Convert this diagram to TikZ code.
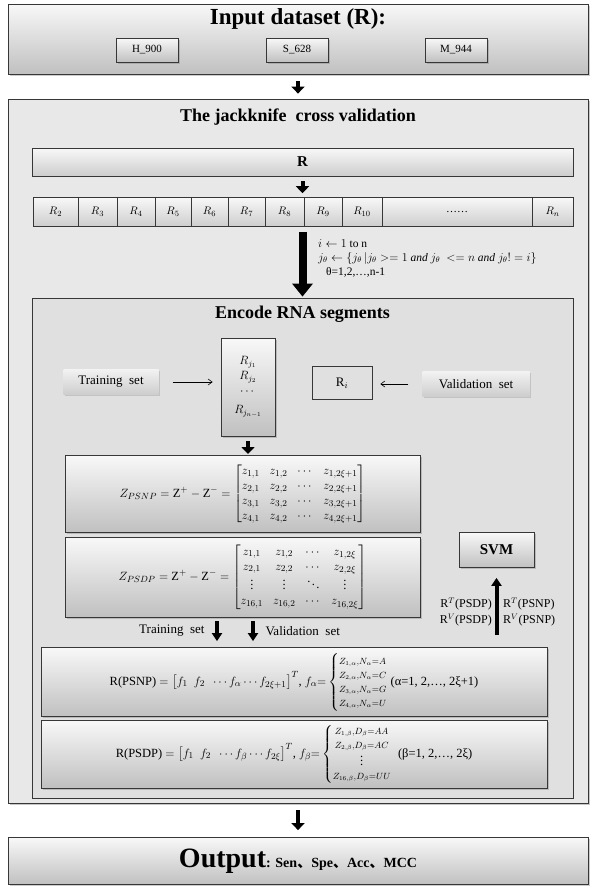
\documentclass[tikz,border=0pt]{standalone}
\usepackage{amsmath}
\usepackage{fontspec}
\setmainfont{Liberation Serif}
\newfontfamily\cjk{Noto Sans CJK SC}
\usetikzlibrary{shadows,arrows.meta,positioning}
\definecolor{frame-line}{RGB}{55,55,55}
\definecolor{panel-top}{RGB}{248,248,248}
\definecolor{panel-bottom}{RGB}{192,192,192}
\definecolor{back-fill}{RGB}{232,232,232}
\definecolor{inner-fill}{RGB}{224,224,224}
\definecolor{tag-top}{RGB}{242,242,242}
\definecolor{tag-bottom}{RGB}{205,205,205}

\begin{document}
\begin{tikzpicture}[
    x=1pt, y=-1pt,
    panel/.style={
        draw=frame-line,
        line width=0.8pt,
        top color=panel-top,
        bottom color=panel-bottom,
        drop shadow={shadow xshift=1.5pt, shadow yshift=-1.5pt, opacity=0.4},
        inner sep=0pt
    },
    back frame/.style={
        draw=frame-line,
        line width=0.8pt,
        fill=back-fill,
        drop shadow={shadow xshift=2pt, shadow yshift=-2pt, opacity=0.45}
    },
    inner frame/.style={
        draw=frame-line,
        line width=0.8pt,
        fill=inner-fill
    },
    set box/.style={
        panel,
        line width=0.6pt,
        minimum width=62pt,
        minimum height=24pt,
        font=\fontsize{11}{13}\selectfont
    },
    seg cell/.style={
        draw=frame-line,
        line width=0.6pt,
        top color=panel-top,
        bottom color=tag-bottom,
        minimum height=29pt,
        inner sep=0pt,
        font=\fontsize{11}{13}\selectfont
    },
    tag box/.style={
        top color=tag-top,
        bottom color=tag-bottom,
        minimum width=95pt,
        minimum height=25pt,
        font=\fontsize{13}{15}\selectfont,
        drop shadow={shadow xshift=1pt, shadow yshift=-1.5pt, opacity=0.3}
    },
    box title/.style={font=\fontsize{#1}{#1}\selectfont\bfseries},
    plain label/.style={font=\fontsize{13}{15}\selectfont},
    blk/.style={line width=4pt, -{Triangle[width=13pt,length=7pt]}},
    big blk/.style={line width=8pt, -{Triangle[width=20pt,length=13pt]}},
    mid blk/.style={line width=4pt, -{Triangle[width=10pt,length=8pt]}},
    thin arrow/.style={line width=0.6pt, -{Straight Barb[length=4pt,width=6pt]}}
]
\useasboundingbox (0,0) rectangle (596,889);

% Input dataset
\node[panel, minimum width=580pt, minimum height=70pt] (input) at (298,39) {};
\node[box title=23] (inputtitle) at (298,19) {Input dataset (R):};
\node[set box] (h900) at (147,50) {H\_900};
\node[set box] (s628) at (297,50) {S\_628};
\node[set box] (m944) at (456,50) {M\_944};

% Jackknife frame
\node[back frame, minimum width=580pt, minimum height=704pt] (jack) at (298,451) {};
\node[box title=18] (jacktitle) at (298,117) {The jackknife\ \ cross validation};
\draw[blk, shorten <=7pt, shorten >=5pt] (input.south) -- (jack.north);

% R bar and its segments
\node[seg cell, minimum width=541pt, minimum height=28pt, font=\fontsize{15}{15}\selectfont\bfseries] (rbar) at (302.5,162) {R};
\foreach \xa/\xb/\lab [count=\k] in {33/78/$R_2$, 78/117/$R_3$, 117/155/$R_4$, 155/191/$R_5$,
        191/228/$R_6$, 228/265/$R_7$, 265/304/$R_8$, 304/342/$R_9$, 342/382/$R_{10}$,
        382/532/……, 532/573/$R_n$}{
    \node[seg cell, minimum width={(\xb-\xa)*1pt}] (c\k) at ({(\xa+\xb)/2},212) {\lab};
}
\draw[blk, shorten <=5pt, shorten >=4pt] (rbar.south) -- (rbar.south |- c8.north);

% Encode RNA segments
\node[inner frame, minimum width=541pt, minimum height=500pt] (encode) at (302.5,548) {};
\node[box title=18] (enctitle) at (302.5,314) {Encode RNA segments};
\draw[big blk, shorten <=5pt, shorten >=1pt] (encode.north |- c8.south) -- (encode.north);
\node[anchor=north west, align=left, inner sep=0pt, font=\fontsize{11.5}{14}\selectfont] (loop) at (318,239) {
    $i \leftarrow 1$ to n\\
    $j_\theta \leftarrow \{j_\theta\,|j_\theta >= 1\ \mathit{and}\ j_\theta\ <= n\ \mathit{and}\ j_\theta != i\}$\\
    \hspace{8pt}θ=1,2,…,n-1
};

% Training / validation split
\node[tag box] (train) at (111,382) {Training\ \ set};
\node[panel, line width=0.7pt, minimum width=54pt, minimum height=98pt, align=center, font=\fontsize{12}{15}\selectfont] (rj) at (248,387)
    {$R_{j_1}$\\$R_{j_2}$\\$\cdots$\\[4pt]$R_{j_{n-1}}$};
\node[draw=frame-line, line width=0.7pt, fill=inner-fill, minimum width=60pt, minimum height=33pt, font=\fontsize{13}{15}\selectfont] (ri) at (342,383) {R$_{i}$};
\node[tag box, minimum width=107pt] (val) at (476,384) {Validation\ \ set};
\draw[thin arrow, shorten <=14pt, shorten >=8pt] (train.east) -- (train.east -| rj.west);
\draw[thin arrow, shorten <=14pt, shorten >=8pt] (val.west) -- (val.west -| ri.east);
\draw[blk, shorten <=5pt, shorten >=4pt] (rj.south) -- (rj.south |- 0,458);

% Position specific matrices
\node[panel, minimum width=355pt, minimum height=77pt, font=\fontsize{12.5}{15}\selectfont] (psnp) at (242.5,494) {
    $Z_{PSNP} = \mathrm{Z}^{+} - \mathrm{Z}^{-} = \begin{bmatrix}
        z_{1,1} & z_{1,2} & \cdots & z_{1,2\xi+1}\\
        z_{2,1} & z_{2,2} & \cdots & z_{2,2\xi+1}\\
        z_{3,1} & z_{3,2} & \cdots & z_{3,2\xi+1}\\
        z_{4,1} & z_{4,2} & \cdots & z_{4,2\xi+1}
    \end{bmatrix}$
};
\node[panel, minimum width=355pt, minimum height=80pt, font=\fontsize{12.5}{15}\selectfont] (psdp) at (242.5,577) {
    $Z_{PSDP} = \mathrm{Z}^{+} - \mathrm{Z}^{-} = \begin{bmatrix}
        z_{1,1} & z_{1,2} & \cdots & z_{1,2\xi}\\
        z_{2,1} & z_{2,2} & \cdots & z_{2,2\xi}\\
        \vdots & \vdots & \ddots & \vdots\\
        z_{16,1} & z_{16,2} & \cdots & z_{16,2\xi}
    \end{bmatrix}$
};

% SVM
\node[panel, minimum width=75pt, minimum height=35pt, font=\fontsize{15}{15}\selectfont\bfseries] (svm) at (496.5,550) {SVM};
\node[anchor=east, align=right, inner sep=0pt, font=\fontsize{12}{16}\selectfont] (svmleft) at (492,612) {R$^{T}$(PSDP)\\R$^{V}$(PSDP)};
\node[anchor=west, align=left, inner sep=0pt, font=\fontsize{12}{16}\selectfont] (svmright) at (503,612) {R$^{T}$(PSNP)\\R$^{V}$(PSNP)};

% Feature vectors
\node[panel, minimum width=506pt, minimum height=69pt, font=\fontsize{12.5}{15}\selectfont] (rpsnp) at (294,682) {
    R(PSNP) $= \bigl[f_1\ \ f_2\ \ \cdots f_\alpha \cdots f_{2\xi+1}\bigr]^{T}$, $f_\alpha{=}\left\{\begin{array}{@{}l@{}}
        {\scriptstyle Z_{1,\alpha},N_\alpha=A}\\[-1pt]
        {\scriptstyle Z_{2,\alpha},N_\alpha=C}\\[-1pt]
        {\scriptstyle Z_{3,\alpha},N_\alpha=G}\\[-1pt]
        {\scriptstyle Z_{4,\alpha},N_\alpha=U}
    \end{array}\right.$ (α=1, 2,…, 2ξ+1)
};
\node[panel, minimum width=506pt, minimum height=68pt, font=\fontsize{12.5}{15}\selectfont] (rpsdp) at (294,754) {
    R(PSDP) $= \bigl[f_1\ \ f_2\ \ \cdots f_\beta \cdots f_{2\xi}\bigr]^{T}$, $f_\beta{=}\left\{\begin{array}{@{}c@{}}
        {\scriptstyle Z_{1,\beta},D_\beta=AA}\\[-1pt]
        {\scriptstyle Z_{2,\beta},D_\beta=AC}\\[-2pt]
        \scriptstyle\vdots\\[-1pt]
        {\scriptstyle Z_{16,\beta},D_\beta=UU}
    \end{array}\right.$ \ (β=1, 2,…, 2ξ)
};

% Training / validation into the feature vectors
\node[plain label, anchor=east] (trainlab) at (208,631) {Training\ \ set};
\node[plain label, anchor=west] (vallab) at (262,631) {Validation\ \ set};
\draw[mid blk, shorten <=4pt, shorten >=6pt] ([xshift=9pt]trainlab.east |- psdp.south) -- ([xshift=9pt]trainlab.east |- rpsnp.north);
\draw[mid blk, shorten <=4pt, shorten >=6pt] ([xshift=-9pt]vallab.west |- psdp.south) -- ([xshift=-9pt]vallab.west |- rpsnp.north);
\draw[mid blk, shorten <=12pt, shorten >=10pt] (svm.south |- rpsnp.north) -- (svm.south);

% Output
\node[panel, minimum width=580pt, minimum height=47pt] (output) at (298,861)
    {\fontsize{28}{30}\selectfont\bfseries Output\fontsize{14}{16}\selectfont: Sen{\cjk 、}Spe{\cjk 、}Acc{\cjk 、}MCC};
\draw[blk, shorten <=7pt, shorten >=7pt] (jack.south) -- (output.north);

\end{tikzpicture}
\end{document}
